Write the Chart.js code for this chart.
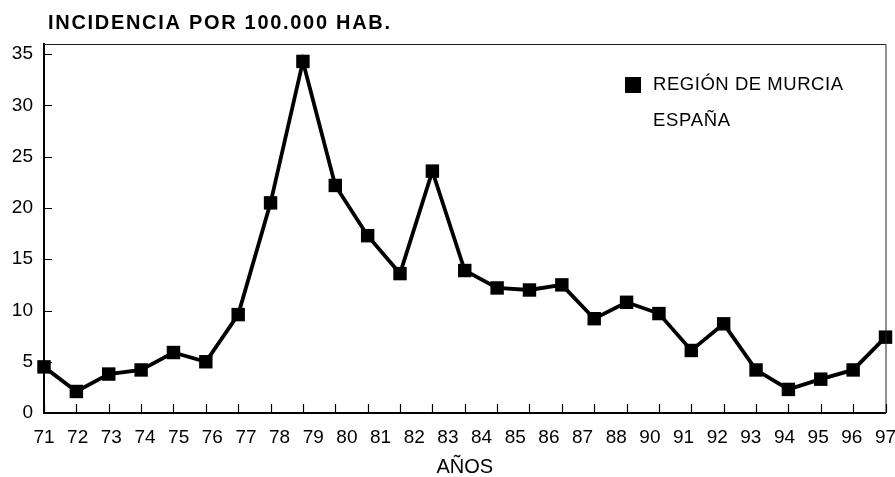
<!DOCTYPE html>
<html>
<head>
<meta charset="utf-8">
<script src="https://cdn.jsdelivr.net/npm/chart.js@4/dist/chart.umd.min.js"></script>
<style>
  html, body { margin: 0; background: #fff; }
  canvas { display: block; }
</style>
</head>
<body>
<canvas id="chart" width="895" height="477"></canvas>
<script>
// one value per year, 1971..1997
const years = [71, 72, 73, 74, 75, 76, 77, 78, 79, 80, 81, 82, 83, 84, 85, 86, 87, 88, 89, 90, 91, 92, 93, 94, 95, 96, 97];
const murcia = [4.5, 2.1, 3.8, 4.2, 5.9, 5.0, 9.6, 20.5, 34.3, 22.2, 17.3, 13.6, 23.6, 13.9, 12.2, 12.0, 12.5, 9.2, 10.8, 9.7, 6.1, 8.7, 4.2, 2.3, 3.3, 4.2, 7.4];

// labels printed under the axis (89 is not printed in the original)
const tickLabels = ['71', '72', '73', '74', '75', '76', '77', '78', '79', '80', '81', '82', '83', '84', '85', '86', '87', '88', '90', '91', '92', '93', '94', '95', '96', '97'];
const yTicks = [0, 5, 10, 15, 20, 25, 30, 35];

const legendLabels = ['REGIÓN DE MURCIA', 'ESPAÑA'];
const chartTitle = 'INCIDENCIA POR 100.000 HAB.';

const FONT = '"Liberation Sans", Arial, sans-serif';

function spacedText(ctx, text, x, y, targetWidth) {
  ctx.letterSpacing = '0px';
  const w = ctx.measureText(text).width;
  const sp = targetWidth ? (targetWidth - w) / (text.length - 1) : 0;
  ctx.letterSpacing = sp + 'px';
  ctx.fillText(text, x, y);
  ctx.letterSpacing = '0px';
}

const overlay = {
  id: 'overlay',
  afterDraw(chart) {
    const { ctx, chartArea: a } = chart;
    const xs = chart.scales.x, ys = chart.scales.y;
    ctx.save();

    // frame top and right
    ctx.strokeStyle = '#222';
    ctx.lineWidth = 1;
    ctx.beginPath();
    ctx.moveTo(a.left, a.top + 0.5);
    ctx.lineTo(a.right + 0.5, a.top + 0.5);
    ctx.lineTo(a.right + 0.5, a.bottom);
    ctx.stroke();

    // inward tick marks
    ctx.lineWidth = 1.2;
    ctx.strokeStyle = '#000';
    ctx.beginPath();
    yTicks.forEach(v => {
      const py = Math.round(ys.getPixelForValue(v)) + 0.5;
      ctx.moveTo(a.left, py);
      ctx.lineTo(a.left + 8, py);
    });
    years.forEach(yr => {
      const px = Math.round(xs.getPixelForValue(yr)) + 0.5;
      ctx.moveTo(px, a.bottom);
      ctx.lineTo(px, a.bottom - 9);
    });
    ctx.stroke();

    // title
    ctx.fillStyle = '#000';
    ctx.textBaseline = 'middle';
    ctx.textAlign = 'left';
    ctx.font = 'bold 20px ' + FONT;
    spacedText(ctx, chartTitle, 48, 23, 342);

    // legend
    ctx.font = '18.5px ' + FONT;
    ctx.fillRect(625, 77, 16, 16);
    spacedText(ctx, legendLabels[0], 653, 85, 190);
    spacedText(ctx, legendLabels[1], 653, 121, 77);

    ctx.restore();
  }
};

new Chart(document.getElementById('chart'), {
  type: 'line',
  data: {
    datasets: [{
      label: legendLabels[0],
      data: murcia.map((v, i) => ({ x: years[i], y: v })),
      xAxisID: 'x',
      borderColor: '#000',
      backgroundColor: '#000',
      borderWidth: 3.8,
      tension: 0,
      fill: false,
      clip: false,
      pointStyle: 'rect',
      pointRadius: 9.5,
      pointBorderWidth: 0,
      pointBackgroundColor: '#000'
    }]
  },
  options: {
    responsive: false,
    animation: false,
    events: [],
    layout: { padding: { top: 44, right: 7, left: 0, bottom: 0 } },
    plugins: {
      legend: { display: false },
      title: { display: false },
      tooltip: { enabled: false }
    },
    scales: {
      x: {
        type: 'linear',
        position: 'bottom',
        weight: 0,
        min: 71,
        max: 97,
        ticks: { display: false, stepSize: 1 },
        grid: { display: false, drawTicks: false },
        border: { display: true, color: '#000', width: 2 },
        afterFit: s => { s.height = 0; s.paddingLeft = 0; s.paddingRight = 0; }
      },
      xl: {
        type: 'category',
        position: 'bottom',
        weight: 1,
        labels: tickLabels,
        offset: false,
        grid: { display: false, drawTicks: false },
        border: { display: false },
        ticks: {
          color: '#000',
          font: { family: FONT, size: 19 },
          padding: 13,
          maxRotation: 0,
          autoSkip: false
        },
        title: {
          display: true,
          text: 'AÑOS',
          color: '#000',
          font: { family: FONT, size: 20, lineHeight: 1 },
          padding: { top: 0, bottom: 0 }
        },
        afterFit: s => { s.height = 64; s.paddingLeft = 0; s.paddingRight = 0; }
      },
      y: {
        type: 'linear',
        min: 0,
        max: 36,
        afterBuildTicks: s => { s.ticks = yTicks.map(v => ({ value: v })); },
        ticks: {
          color: '#000',
          font: { family: FONT, size: 19 },
          padding: 11
        },
        grid: { display: false, drawTicks: false },
        border: { display: true, color: '#000', width: 2 },
        afterFit: s => { s.width = 44; }
      }
    }
  },
  plugins: [overlay]
});
</script>
</body>
</html>
